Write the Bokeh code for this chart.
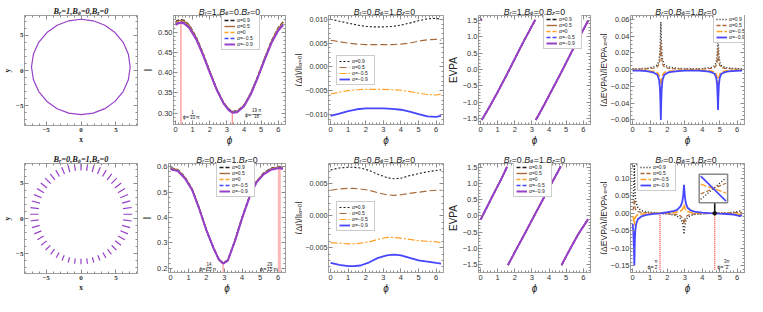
import numpy as np
from bokeh.plotting import figure
from bokeh.models import Range1d, FixedTicker, LinearAxis, Label, Legend, LegendItem
from bokeh.layouts import row, column
from bokeh.embed import file_html
from bokeh.resources import INLINE

PI = np.pi
NAN = float("nan")

# ---------------- texts / ticks ----------------
titles_top = ["B_r=1,B_ϕ=0,B_z=0", "B_r=1,B_ϕ=0,B_z=0", "B_r=0,B_ϕ=1,B_z=0",
              "B_r=1,B_ϕ=0,B_z=0", "B_r=0,B_ϕ=1,B_z=0"]
titles_bot = ["B_r=0,B_ϕ=1,B_z=0", "B_r=0,B_ϕ=1,B_z=0", "B_r=0,B_ϕ=1,B_z=0",
              "B_r=0,B_ϕ=1,B_z=0", "B_r=0,B_ϕ=1,B_z=0"]
alpha5_labels = ["α=0.9", "α=0.5", "α=0", "α=−0.5", "α=−0.9"]
alpha4_labels = ["α=0.9", "α=0.5", "α=−0.5", "α=−0.9"]
ylab_ring = "y"
xlab_ring = "x"
xlab_phi = "ϕ"
ylab_I = "I"
ylab_dI = "(ΔI)/|I_{α=0}|"
ylab_evpa = "EVPA"
ylab_devpa = "(ΔEVPA)/|EVPA_{α=0}|"

ring_ticks = [-5, 0, 5]
ring_tick_labels = ["−5", "0", "5"]
phi_ticks = [0, 1, 2, 3, 4, 5, 6]
phi_tick_labels = ["0", "1", "2", "3", "4", "5", "6"]
i2_ticks = [0.30, 0.35, 0.40, 0.45, 0.50]
i2_tick_labels = ["0.30", "0.35", "0.40", "0.45", "0.50"]
d3_ticks = [-0.010, -0.005, 0.0, 0.005, 0.010]
d3_tick_labels = ["−0.010", "−0.005", "0.000", "0.005", "0.010"]
evpa_ticks = [-1.5, -1.0, -0.5, 0.0, 0.5, 1.0, 1.5]
evpa_tick_labels = ["−1.5", "−1.0", "−0.5", "0.0", "0.5", "1.0", "1.5"]
de5_ticks = [-0.06, -0.04, -0.02, 0.0, 0.02, 0.04, 0.06]
de5_tick_labels = ["−0.06", "−0.04", "−0.02", "0.00", "0.02", "0.04", "0.06"]
i7_ticks = [0.2, 0.3, 0.4, 0.5, 0.6]
i7_tick_labels = ["0.2", "0.3", "0.4", "0.5", "0.6"]
d8_ticks = [-0.005, 0.0, 0.005]
d8_tick_labels = ["−0.005", "0.000", "0.005"]
de10_ticks = [-0.15, -0.10, -0.05, 0.0, 0.05, 0.10]
de10_tick_labels = ["−0.15", "−0.10", "−0.05", "0.00", "0.05", "0.10"]

# ---------------- data ----------------
ring1_deg = [0, 15, 30, 45, 60, 75, 90, 105, 120, 135, 150, 165, 180,
             195, 210, 225, 240, 255, 270, 285, 300, 315, 330, 345, 360]
ring1_r = [7.05, 7.03, 6.98, 6.90, 6.83, 6.78, 6.77, 6.78, 6.83, 6.91, 7.00, 7.06, 7.10,
           7.06, 6.99, 6.91, 6.84, 6.78, 6.77, 6.78, 6.83, 6.90, 6.98, 7.03, 7.05]
ring1_cx, ring1_cy = 0.0, 0.5

ring6_deg = [0, 7.5, 15, 22.5, 30, 37.5, 45, 52.5, 60, 67.5, 75, 82.5,
             90, 97.5, 105, 112.5, 120, 127.5, 135, 142.5, 150, 157.5, 165, 172.5,
             180, 187.5, 195, 202.5, 210, 217.5, 225, 232.5, 240, 247.5, 255, 262.5,
             270, 277.5, 285, 292.5, 300, 307.5, 315, 322.5, 330, 337.5, 345, 352.5]
ring6_len = [1.25, 1.25, 1.22, 1.20, 1.17, 1.13, 1.10, 1.07, 1.05, 1.03, 1.01, 1.00,
             1.00, 1.00, 1.01, 1.03, 1.05, 1.07, 1.10, 1.13, 1.15, 1.17, 1.19, 1.20,
             1.20, 1.18, 1.15, 1.10, 1.05, 1.00, 0.95, 0.90, 0.85, 0.81, 0.78, 0.76,
             0.75, 0.76, 0.78, 0.82, 0.87, 0.93, 0.99, 1.05, 1.11, 1.16, 1.20, 1.23]
ring6_cx, ring6_cy, ring6_r = 0.0, 0.6, 6.7

phi2 = [0, 0.15, 0.31, 0.5, 0.8, 1.2, 1.6, 2.0, 2.4, 2.8, 3.1, 3.32, 3.6, 4.0, 4.4, 4.8, 5.2, 5.6, 6.0, 6.28]
I2_a09 = [0.5255, 0.5295, 0.5310, 0.5291, 0.5175, 0.4887, 0.4480, 0.4031, 0.3602, 0.3265,
          0.3104, 0.3040, 0.3055, 0.3198, 0.3503, 0.3910, 0.4357, 0.4784, 0.5110, 0.5255]
I2_a05 = [0.5235, 0.5275, 0.5290, 0.5271, 0.5158, 0.4872, 0.4470, 0.4024, 0.3596, 0.3259,
          0.3097, 0.3033, 0.3048, 0.3191, 0.3496, 0.3901, 0.4347, 0.4770, 0.5093, 0.5235]
I2_a0 = [0.5215, 0.5255, 0.5270, 0.5251, 0.5140, 0.4857, 0.4460, 0.4016, 0.3590, 0.3253,
         0.3089, 0.3025, 0.3040, 0.3183, 0.3488, 0.3892, 0.4337, 0.4756, 0.5075, 0.5215]
I2_am05 = [0.5195, 0.5235, 0.5250, 0.5231, 0.5123, 0.4842, 0.4450, 0.4009, 0.3584, 0.3247,
           0.3082, 0.3018, 0.3033, 0.3176, 0.3481, 0.3883, 0.4327, 0.4742, 0.5058, 0.5195]
I2_am09 = [0.5175, 0.5215, 0.5230, 0.5211, 0.5105, 0.4827, 0.4440, 0.4001, 0.3578, 0.3241,
           0.3074, 0.3010, 0.3025, 0.3168, 0.3473, 0.3874, 0.4317, 0.4728, 0.5040, 0.5175]
mark2_phi = [PI / 10, 19 * PI / 18]
mark2_top = [0.527, 0.302]

phi3 = [0, 0.5, 1.0, 1.5, 2.0, 2.5, 3.0, 3.5, 4.0, 4.5, 5.0, 5.5, 6.0, 6.28]
d3_a09 = [0.0100, 0.0096, 0.0092, 0.0088, 0.0085, 0.0084, 0.0084, 0.0085, 0.0088, 0.0092, 0.0097, 0.0101, 0.0102, 0.0100]
d3_a05 = [0.0056, 0.0053, 0.0050, 0.0048, 0.0047, 0.0047, 0.0047, 0.0047, 0.0048, 0.0050, 0.0054, 0.0057, 0.0058, 0.0056]
d3_am05 = [-0.0057, -0.0053, -0.0050, -0.0048, -0.0047, -0.0047, -0.0047, -0.0048, -0.0049, -0.0052, -0.0055, -0.0058, -0.0059, -0.0057]
d3_am09 = [-0.0103, -0.0098, -0.0093, -0.0089, -0.0087, -0.0087, -0.0087, -0.0088, -0.0090, -0.0094, -0.0099, -0.0104, -0.0105, -0.0103]

phi4 = [0, 0.05, NAN, 0.07, 0.5, 1.0, 1.5, 2.0, 2.5, 3.0, 3.2, NAN, 3.23, 3.7, 4.2, 4.7, 5.2, 5.7, 6.1, 6.28]
evpa4 = [1.50, 1.56, NAN, -1.55, -1.17, -0.69, -0.19, 0.33, 0.85, 1.34, 1.53, NAN, -1.55, -1.10, -0.60, -0.10, 0.42, 0.93, 1.32, 1.50]

phi5 = [0, 0.4, 0.8, 1.02, 1.22, 1.42, 1.52, 1.57, 1.60, 1.62, 1.64, 1.67, 1.72, 1.82, 2.02, 2.22,
        2.6, 3.0, 3.4, 3.8, 4.1, 4.3, 4.5, 4.7, 4.8, 4.85, 4.88, 4.9, 4.92, 4.95, 5.0, 5.1, 5.3, 5.5, 5.9, 6.28]
de5_a09 = [0.001, 0.0012, 0.0016, 0.0026, 0.0034, 0.0057, 0.0114, 0.0217, 0.040, 0.057, 0.040, 0.0217, 0.0114, 0.0057, 0.0034, 0.0026,
           0.0016, 0.0012, 0.0011, 0.0012, 0.0016, 0.0020, 0.0027, 0.0045, 0.009, 0.017, 0.0315, 0.045, 0.0315, 0.017, 0.009, 0.0045, 0.0027, 0.0020, 0.0014, 0.001]
de5_a05 = [0.0005, 0.0006, 0.0009, 0.0015, 0.0020, 0.0033, 0.0066, 0.0125, 0.023, 0.033, 0.023, 0.0125, 0.0066, 0.0033, 0.0020, 0.0015,
           0.0009, 0.0006, 0.0005, 0.0006, 0.0009, 0.0012, 0.0016, 0.0026, 0.0052, 0.0099, 0.018, 0.026, 0.018, 0.0099, 0.0052, 0.0026, 0.0016, 0.0012, 0.0008, 0.0005]
de5_am05 = [-0.0005, -0.0006, -0.0009, -0.0015, -0.0020, -0.0033, -0.0066, -0.0125, -0.023, -0.033, -0.023, -0.0125, -0.0066, -0.0033, -0.0020, -0.0015,
            -0.0009, -0.0006, -0.0005, -0.0006, -0.0009, -0.0012, -0.0016, -0.0026, -0.0052, -0.0099, -0.018, -0.026, -0.018, -0.0099, -0.0052, -0.0026, -0.0016, -0.0012, -0.0008, -0.0005]
de5_am09 = [-0.001, -0.0012, -0.0017, -0.0027, -0.0036, -0.006, -0.012, -0.0228, -0.042, -0.060, -0.042, -0.0228, -0.012, -0.006, -0.0036, -0.0027,
            -0.0017, -0.0012, -0.0011, -0.0012, -0.0017, -0.0021, -0.0029, -0.0048, -0.0096, -0.018, -0.0336, -0.048, -0.0336, -0.018, -0.0096, -0.0048, -0.0029, -0.0021, -0.0015, -0.001]

phi7 = [0, 0.4, 0.8, 1.2, 1.6, 2.0, 2.4, 2.7, 2.93, 3.2, 3.6, 4.0, 4.4, 4.8, 5.2, 5.6, 6.07, 6.28]
I7_a09 = [0.595, 0.588, 0.559, 0.512, 0.4365, 0.351, 0.281, 0.236, 0.221, 0.233, 0.311, 0.4015, 0.482, 0.542, 0.5745, 0.593, 0.600, 0.596]
I7_a05 = [0.5935, 0.5865, 0.5575, 0.511, 0.4358, 0.3505, 0.2805, 0.2355, 0.2205, 0.2325, 0.3105, 0.4008, 0.481, 0.541, 0.5733, 0.5915, 0.5985, 0.5945]
I7_a0 = [0.592, 0.585, 0.556, 0.510, 0.435, 0.350, 0.280, 0.235, 0.220, 0.232, 0.310, 0.400, 0.480, 0.540, 0.572, 0.590, 0.597, 0.593]
I7_am05 = [0.5905, 0.5835, 0.5545, 0.509, 0.4343, 0.3495, 0.2795, 0.2345, 0.2195, 0.2315, 0.3095, 0.3993, 0.479, 0.539, 0.5708, 0.5885, 0.5955, 0.5915]
I7_am09 = [0.589, 0.582, 0.553, 0.508, 0.4335, 0.349, 0.279, 0.234, 0.219, 0.231, 0.309, 0.3985, 0.478, 0.538, 0.5695, 0.587, 0.594, 0.590]
mark7_phi = [14 * PI / 15, 29 * PI / 15]
mark7_top = [0.220, 0.597]

phi8 = [0, 0.5, 1.0, 1.3, 1.7, 2.2, 2.7, 3.2, 3.6, 4.0, 4.5, 5.0, 5.5, 6.0, 6.28]
d8_a09 = [0.0072, 0.0075, 0.0076, 0.0076, 0.0075, 0.0071, 0.0065, 0.0060, 0.0058, 0.0059, 0.0063, 0.0066, 0.0069, 0.0071, 0.0072]
d8_a05 = [0.0040, 0.0042, 0.0043, 0.0043, 0.0042, 0.0040, 0.0036, 0.0033, 0.0032, 0.0033, 0.0035, 0.0037, 0.0039, 0.0040, 0.0040]
d8_am05 = [-0.0042, -0.0043, -0.0044, -0.0044, -0.0043, -0.0041, -0.0037, -0.0034, -0.0034, -0.0035, -0.0037, -0.0039, -0.0040, -0.0041, -0.0042]
d8_am09 = [-0.0074, -0.0077, -0.0079, -0.0079, -0.0078, -0.0073, -0.0066, -0.0062, -0.0061, -0.0062, -0.0066, -0.0070, -0.0072, -0.0074, -0.0075]

phi9 = [0, 0.4, 0.8, 1.2, 1.55, NAN, 1.6, 2.0, 2.5, 3.0, 3.5, 4.0, 4.5, 4.68, NAN, 4.73, 5.2, 5.7, 6.28]
evpa9 = [-0.12, 0.30, 0.72, 1.13, 1.52, NAN, -1.52, -1.12, -0.63, -0.13, 0.37, 0.86, 1.35, 1.53, NAN, -1.52, -1.05, -0.57, -0.10]

phi10 = [0, 0.04, 0.07, 0.09, 0.1, 0.11, 0.13, 0.16, 0.2, 0.3, 0.5, 0.8, 1.2, 1.57, 2.0, 2.35, 2.55, 2.75,
         2.85, 2.9, 2.93, 2.95, 2.97, 3.0, 3.05, 3.15, 3.35, 3.6, 4.0, 4.4, 4.71, 5.0, 5.4, 5.8, 6.0, 6.15, 6.28]
de10_a09 = [0.03, 0.045, 0.08, 0.12, 0.14, 0.12, 0.07, 0.045, 0.03, 0.016, 0.008, 0.004, 0.0015, 0.0, -0.002, -0.005, -0.008, -0.015,
            -0.025, -0.038, -0.05, -0.06, -0.05, -0.035, -0.022, -0.012, -0.006, -0.003, -0.0015, -0.0006, 0.0, 0.0008, 0.0015, 0.003, 0.005, 0.007, 0.004]
de10_a05 = [0.009, 0.013, 0.024, 0.035, 0.04, 0.035, 0.02, 0.013, 0.009, 0.005, 0.0025, 0.0012, 0.0005, 0.0, -0.001, -0.0025, -0.004, -0.0075,
            -0.0125, -0.019, -0.025, -0.03, -0.025, -0.0175, -0.011, -0.006, -0.003, -0.0015, -0.0008, -0.0003, 0.0, 0.0004, 0.0008, 0.0015, 0.0025, 0.0035, 0.002]
de10_am05 = [-0.008, -0.011, -0.021, -0.03, -0.035, -0.03, -0.018, -0.011, -0.008, -0.0045, -0.0022, -0.001, -0.0004, 0.0, 0.0009, 0.002, 0.0033, 0.0063,
             0.0104, 0.016, 0.021, 0.025, 0.021, 0.0146, 0.009, 0.005, 0.0025, 0.0013, 0.0007, 0.0003, 0.0, -0.0004, -0.0007, -0.0013, -0.002, -0.003, -0.0018]
de10_am09 = [-0.03, -0.05, -0.09, -0.13, -0.15, -0.13, -0.075, -0.048, -0.032, -0.017, -0.009, -0.0045, -0.0017, 0.0, 0.003, 0.006, 0.01, 0.02,
             0.033, 0.05, 0.068, 0.082, 0.068, 0.048, 0.03, 0.016, 0.008, 0.004, 0.002, 0.0007, 0.0, -0.001, -0.002, -0.0035, -0.006, -0.008, -0.005]
mark10_phi = [PI / 2, 3 * PI / 2]
inset_phi = [4.67, 4.75]
inset_a09 = [-0.0006, 0.0006]
inset_a05 = [-0.0003, 0.0003]
inset_am05 = [0.00025, -0.00025]
inset_am09 = [0.0007, -0.0007]

# ---------------- styling ----------------
SANS = "Liberation Sans"
SERIF = "Liberation Serif"
FRAME = "#a0a0a0"
TICKC = "#8c8c8c"
LABC = "#333333"
BLACK = "#1e1e1e"
BROWN = "#a86a3a"
ORANGE = "#ffa126"
BLUE = "#4646ff"
PURPLE = "#9940c8"
RED = "#ff2a2a"

S5 = [(BLACK, "4 2", 1.4), (BROWN, "solid", 1.4), (ORANGE, "4 2", 1.4), (BLUE, "4 2", 1.4), (PURPLE, "solid", 2.0)]
S4a = [(BLACK, "2 2", 1.1), (BROWN, "7 3", 1.2), (ORANGE, "7 2 2 2", 1.2), (BLUE, "solid", 1.8)]
S4b = [(BLACK, "1 2", 1.5), (BROWN, "4 2", 1.3), (ORANGE, "6 2", 1.6), (BLUE, "solid", 1.8)]

WS = {c: 0.556 for c in "0123456789"}
WS.update({'.': .278, ',': .278, '=': .584, '−': .584, '-': .333, '(': .333, ')': .333, '/': .278,
           '|': .26, 'B': .667, 'E': .667, 'V': .667, 'P': .667, 'A': .667, 'I': .278, 'r': .333,
           'z': .5, 'x': .5, 'y': .5, 'ϕ': .62, 'α': .58, 'Δ': .67, 'π': .58, ' ': .278})
WR = {c: 0.5 for c in "0123456789"}
WR.update({'.': .25, ',': .25, '=': .57, '−': .57, 'B': .667, 'r': .389, 'z': .389, 'ϕ': .55, 'x': .5, 'y': .5})


def tw(s, size, fam):
    t = WS if fam == "sans" else WR
    return sum(t.get(c, 0.56) for c in s) * size


def parse_rich(s):
    parts, buf, i = [], "", 0
    while i < len(s):
        c = s[i]
        if c == "_":
            if buf:
                parts.append((buf, False))
                buf = ""
            if s[i + 1] == "{":
                j = s.index("}", i)
                parts.append((s[i + 2:j], True))
                i = j + 1
            else:
                parts.append((s[i + 1], True))
                i += 2
        else:
            buf += c
            i += 1
    if buf:
        parts.append((buf, False))
    return parts


def rich(p, x, y, s, size, font=SANS, fam="sans", style="normal", italic_letters=False,
         angle=0.0, dx=0.0, dy=0.0, color="#222222", align="center", sub_shift=0.28):
    runs = []
    for txt, sub in parse_rich(s):
        if italic_letters:
            cur, cur_alpha = "", None
            for ch in txt:
                a = ch.isalpha()
                if cur and a != cur_alpha:
                    runs.append((cur, sub, "italic" if cur_alpha else "normal"))
                    cur = ""
                cur += ch
                cur_alpha = a
            if cur:
                runs.append((cur, sub, "italic" if cur_alpha else "normal"))
        else:
            runs.append((txt, sub, style))
    sizes = [size * 0.68 if r[1] else size for r in runs]
    total = sum(tw(r[0], fs, fam) for r, fs in zip(runs, sizes))
    u = -total / 2 if align == "center" else (0 if align == "left" else -total)
    ca, sa = np.cos(angle), np.sin(angle)
    for (txt, sub, st), fs in zip(runs, sizes):
        v = -sub_shift * size if sub else 0.0
        ox = dx + u * ca - v * sa
        oy = dy + u * sa + v * ca
        p.add_layout(Label(x=x, y=y, text=txt, x_offset=ox, y_offset=oy, angle=angle,
                           text_align="left", text_baseline="alphabetic", text_font=font,
                           text_font_size=f"{fs:.2f}px", text_font_style=st, text_color=color))
        u += tw(txt, fs, fam)


def frac(p, x, y, pre, num, den, post, size=5.5):
    fs = size * 0.82
    wpre = tw(pre, size, "sans")
    wf = max(tw(num, fs, "sans"), tw(den, fs, "sans"))
    kw = dict(x=x, y=y, text_font=SANS, text_color="#222222")
    p.add_layout(Label(text=pre, x_offset=0, y_offset=-0.35 * size, text_align="left",
                       text_baseline="alphabetic", text_font_size=f"{size}px", **kw))
    cx = wpre + 0.6 + wf / 2
    p.add_layout(Label(text=num, x_offset=cx, y_offset=0.6, text_align="center",
                       text_baseline="bottom", text_font_size=f"{fs:.2f}px", **kw))
    p.add_layout(Label(text=den, x_offset=cx, y_offset=-0.6, text_align="center",
                       text_baseline="top", text_font_size=f"{fs:.2f}px", **kw))
    p.add_layout(Label(text="—", x_offset=cx, y_offset=0, text_align="center",
                       text_baseline="middle", text_font_size=f"{wf + 1:.2f}px", **kw))
    if post:
        p.add_layout(Label(text=post, x_offset=wpre + wf + 1.6, y_offset=-0.35 * size, text_align="left",
                           text_baseline="alphabetic", text_font_size=f"{size}px", **kw))


def style_axis(ax):
    ax.axis_line_color = FRAME
    ax.major_tick_in = 4
    ax.major_tick_out = 0
    ax.minor_tick_in = 2
    ax.minor_tick_out = 0
    ax.major_tick_line_color = TICKC
    ax.minor_tick_line_color = TICKC


# layout geometry (per column)
WIDTHS = [138, 148, 158, 147, 156]
BL = [18, 28, 39, 28, 36]
BR = [1, 1, 1, 1, 3]
STRIP = [0, 0, 16, 0, 16]
TITLE_H = 15
MAIN_H = 133
M_TOP, M_BOT = 0, 23
FH = MAIN_H - M_TOP - M_BOT


def make_fig(col, xr, yr, xt, xl, yt, yl, xm, ym, font=SANS, fsize="7.5px", fstyle="normal",
             xlabel=None, xlab_font=SANS, xlab_size="10px", xlab_style="italic",
             ylabel=None, ylab_font=SANS, ylab_size="10px", ylab_style="normal", ytick_size=None):
    p = figure(width=WIDTHS[col] - STRIP[col], height=MAIN_H, x_range=Range1d(*xr), y_range=Range1d(*yr),
               output_backend="svg", toolbar_location=None, tools="",
               min_border_left=BL[col] - STRIP[col], min_border_right=BR[col],
               min_border_top=M_TOP, min_border_bottom=M_BOT)
    p.xgrid.visible = False
    p.ygrid.visible = False
    p.outline_line_color = FRAME
    p.background_fill_color = "white"
    p.border_fill_color = "white"
    for ax, ticks, labels, minor in ((p.xaxis[0], xt, xl, xm), (p.yaxis[0], yt, yl, ym)):
        ax.ticker = FixedTicker(ticks=ticks, minor_ticks=minor)
        ax.major_label_overrides = {float(t): s for t, s in zip(ticks, labels)}
        style_axis(ax)
        ax.major_label_text_font = font
        ax.major_label_text_font_size = fsize
        ax.major_label_text_font_style = fstyle
        ax.major_label_text_color = LABC
        ax.major_label_standoff = 1
    if ytick_size:
        p.yaxis[0].major_label_text_font_size = ytick_size
    xa = p.xaxis[0]
    xa.major_label_standoff = 2
    for ax, lab, f, sz, st in ((xa, xlabel, xlab_font, xlab_size, xlab_style),
                                (p.yaxis[0], ylabel, ylab_font, ylab_size, ylab_style)):
        if lab:
            ax.axis_label = lab
            ax.axis_label_text_font = f
            ax.axis_label_text_font_size = sz
            ax.axis_label_text_font_style = st
            ax.axis_label_text_color = "#222222"
            ax.axis_label_standoff = 1
    xa.axis_label_standoff = 0
    for loc, ticks, minor in (("above", xt, xm), ("right", yt, ym)):
        ax = LinearAxis(ticker=FixedTicker(ticks=ticks, minor_ticks=minor),
                        major_label_overrides={float(t): "" for t in ticks},
                        major_label_standoff=0, major_label_text_font_size="0px")
        style_axis(ax)
        p.add_layout(ax, loc)
    return p


def strip(width, height, bl, br, bt, bb):
    f = figure(width=width, height=height, x_range=Range1d(0, 1), y_range=Range1d(0, 1),
               output_backend="svg", toolbar_location=None, tools="",
               x_axis_location=None, y_axis_location=None,
               min_border_left=bl, min_border_right=br, min_border_top=bt, min_border_bottom=bb)
    f.grid.visible = False
    f.outline_line_color = None
    f.background_fill_color = "white"
    f.border_fill_color = "white"
    return f


def panel(col, p, title_text, ylab_text=None, serif=False, ylab_size=8.5):
    t = strip(WIDTHS[col], TITLE_H, BL[col], BR[col], 0, 0)
    if serif:
        rich(t, 0.5, 0.0, title_text, 8.3, font=SERIF, fam="serif", style="bold italic",
             dy=4.0, sub_shift=0.22)
    else:
        rich(t, 0.5, 0.0, title_text, 8.8, italic_letters=True, dy=4.0, sub_shift=0.22)
    if STRIP[col] and ylab_text:
        s = strip(STRIP[col], MAIN_H, 0, 0, M_TOP, M_BOT)
        rich(s, 0.0, 0.5, ylab_text, ylab_size, angle=PI / 2, dx=12.0, sub_shift=0.22)
        return column(t, row(s, p))
    return column(t, p)


def minor(a, b, step):
    return [float(v) for v in np.arange(a, b + 1e-9, step)]


def add_legend(p, rends, labels, x, top):
    n = len(labels)
    h = n * 6 + 4
    leg = Legend(items=[LegendItem(label=l, renderers=[r]) for l, r in zip(labels, rends)],
                 location=(x, FH - top - h), label_text_font=SANS, label_text_font_size="5px",
                 label_height=6, glyph_height=6, glyph_width=11, label_standoff=2, spacing=0,
                 padding=2, margin=0, border_line_color="#9a9a9a", border_line_width=0.8,
                 background_fill_color="white", background_fill_alpha=1.0, label_text_color="#222222")
    p.add_layout(leg)


def draw_lines(p, xs, ys_list, styles):
    rs = []
    for ys, (c, d, w) in zip(ys_list, styles):
        rs.append(p.line(np.array(xs, dtype=float), np.array(ys, dtype=float),
                         line_color=c, line_dash=d, line_width=w))
    return rs


XR_PHI = (-0.12, 6.42)
XM_PHI = minor(0, 6.4, 0.2)
XR1, YR1 = (-8.1, 8.1), (-7.8, 7.8)
RING_KW = dict(font=SERIF, fsize="7px", fstyle="bold", xlabel=xlab_ring, xlab_font=SERIF,
               xlab_size="7.5px", xlab_style="bold", ylabel=ylab_ring, ylab_font=SERIF,
               ylab_size="7.5px", ylab_style="bold")

# ===== panel 1 =====
p1 = make_fig(0, XR1, YR1, ring_ticks, ring_tick_labels, ring_ticks, ring_tick_labels,
              minor(-8, 8, 1), minor(-7, 7, 1), **RING_KW)
th1 = np.radians(ring1_deg)
r1 = np.array(ring1_r)
p1.line(ring1_cx + r1 * np.cos(th1), ring1_cy + r1 * np.sin(th1), line_color=PURPLE, line_width=1.2)
P1 = panel(0, p1, titles_top[0], serif=True)

# ===== panel 2 =====
YR2 = (0.272, 0.541)
p2 = make_fig(1, XR_PHI, YR2, phi_ticks, phi_tick_labels, i2_ticks, i2_tick_labels, XM_PHI,
              minor(0.28, 0.54, 0.01), xlabel=xlab_phi, ylabel=ylab_I, ylab_size="10.5px")
p2.segment(mark2_phi, [YR2[0]] * 2, mark2_phi, mark2_top, line_color=RED, line_dash="1 1", line_width=1.3)
r2 = draw_lines(p2, phi2, [I2_a09, I2_a05, I2_a0, I2_am05, I2_am09], S5)
add_legend(p2, r2, alpha5_labels, 48, 2)
frac(p2, 0.42, 0.296, "ϕ=", "1", "10", "π")
frac(p2, 4.05, 0.299, "ϕ=", "19 π", "18", "")
P2 = panel(1, p2, titles_top[1])

# ===== panel 3 =====
YR3 = (-0.0121, 0.0108)
p3 = make_fig(2, XR_PHI, YR3, phi_ticks, phi_tick_labels, d3_ticks, d3_tick_labels, XM_PHI,
              minor(-0.012, 0.010, 0.001), xlabel=xlab_phi, ytick_size="7.2px")
r3 = draw_lines(p3, phi3, [d3_a09, d3_a05, d3_am05, d3_am09], S4a)
add_legend(p3, r3, alpha4_labels, 8, 43)
P3 = panel(2, p3, titles_top[2], ylab_dI)

# ===== panel 4 =====
YR4 = (-1.69, 1.66)
p4 = make_fig(3, XR_PHI, YR4, phi_ticks, phi_tick_labels, evpa_ticks, evpa_tick_labels, XM_PHI,
              minor(-1.6, 1.6, 0.1), xlabel=xlab_phi, ylabel=ylab_evpa)
r4 = draw_lines(p4, phi4, [evpa4] * 5, S5)
add_legend(p4, r4, alpha5_labels, 65, 1)
P4 = panel(3, p4, titles_top[3])

# ===== panel 5 =====
YR5 = (-0.0655, 0.0648)
p5 = make_fig(4, XR_PHI, YR5, phi_ticks, phi_tick_labels, de5_ticks, de5_tick_labels, XM_PHI,
              minor(-0.065, 0.065, 0.005), xlabel=xlab_phi)
r5 = draw_lines(p5, phi5, [de5_a09, de5_a05, de5_am05, de5_am09], S4b)
add_legend(p5, r5, alpha4_labels, 83, 1)
P5 = panel(4, p5, titles_top[4], ylab_devpa)

# ===== panel 6 =====
p6 = make_fig(0, XR1, YR1, ring_ticks, ring_tick_labels, ring_ticks, ring_tick_labels,
              minor(-8, 8, 1), minor(-7, 7, 1), **RING_KW)
th6 = np.radians(ring6_deg)
L6 = np.array(ring6_len)
cx6 = ring6_cx + ring6_r * np.cos(th6)
cy6 = ring6_cy + ring6_r * np.sin(th6)
p6.segment(cx6 - L6 / 2 * np.cos(th6), cy6 - L6 / 2 * np.sin(th6),
           cx6 + L6 / 2 * np.cos(th6), cy6 + L6 / 2 * np.sin(th6), line_color=PURPLE, line_width=1.2)
P6 = panel(0, p6, titles_bot[0], serif=True)

# ===== panel 7 =====
YR7 = (0.184, 0.612)
p7 = make_fig(1, XR_PHI, YR7, phi_ticks, phi_tick_labels, i7_ticks, i7_tick_labels, XM_PHI,
              minor(0.18, 0.61, 0.02), xlabel=xlab_phi, ylabel=ylab_I, ylab_size="10.5px")
p7.segment([mark7_phi[0]], [YR7[0]], [mark7_phi[0]], [mark7_top[0]], line_color=RED, line_dash="1 1", line_width=1.2)
p7.segment([mark7_phi[1]], [YR7[0]], [mark7_phi[1]], [mark7_top[1]], line_color="#ff7070", line_dash="1 1", line_width=3)
r7 = draw_lines(p7, phi7, [I7_a09, I7_a05, I7_a0, I7_am05, I7_am09], S5)
add_legend(p7, r7, alpha5_labels, 48, 1)
frac(p7, 1.6, 0.207, "ϕ=", "14", "15", "π")
frac(p7, 5.0, 0.207, "ϕ=", "29", "15", "π")
P7 = panel(1, p7, titles_bot[1])

# ===== panel 8 =====
YR8 = (-0.0089, 0.0082)
p8 = make_fig(2, XR_PHI, YR8, phi_ticks, phi_tick_labels, d8_ticks, d8_tick_labels, XM_PHI,
              minor(-0.008, 0.008, 0.001), xlabel=xlab_phi, ytick_size="7.2px")
r8 = draw_lines(p8, phi8, [d8_a09, d8_a05, d8_am05, d8_am09], S4a)
add_legend(p8, r8, alpha4_labels, 8, 41)
P8 = panel(2, p8, titles_bot[2], ylab_dI)

# ===== panel 9 =====
YR9 = (-1.75, 1.62)
p9 = make_fig(3, XR_PHI, YR9, phi_ticks, phi_tick_labels, evpa_ticks, evpa_tick_labels, XM_PHI,
              minor(-1.7, 1.6, 0.1), xlabel=xlab_phi, ylabel=ylab_evpa)
r9 = draw_lines(p9, phi9, [evpa9] * 5, S5)
add_legend(p9, r9, alpha5_labels, 35, 1)
P9 = panel(3, p9, titles_bot[3])

# ===== panel 10 =====
YR10 = (-0.17, 0.143)
p10 = make_fig(4, XR_PHI, YR10, phi_ticks, phi_tick_labels, de10_ticks, de10_tick_labels, XM_PHI,
               minor(-0.17, 0.14, 0.01), xlabel=xlab_phi)
p10.segment(mark10_phi, [-0.162] * 2, mark10_phi, [0.0] * 2, line_color=RED, line_dash="1 1", line_width=1.2)
r10 = draw_lines(p10, phi10, [de10_a09, de10_a05, de10_am05, de10_am09], S4b)
ix0, ix1, iy0, iy1 = 3.82, 5.45, 0.030, 0.112
p10.segment([mark10_phi[1]], [iy0], [mark10_phi[1]], [0.0], line_color="#111111", line_width=1.6)
p10.scatter([mark10_phi[1]], [0.0], size=3.5, color="#111111")
p10.quad(left=[ix0], right=[ix1], bottom=[iy0], top=[iy1], fill_color="white", line_color="#888888", line_width=1.5)
ipx = np.array(inset_phi)
ixs = ix0 + (ipx - 4.665) / (4.755 - 4.665) * (ix1 - ix0)
for ys, (c, d, w) in zip([inset_a09, inset_a05, inset_am05, inset_am09], S4b):
    iys = iy0 + (np.array(ys) + 0.0008) / 0.0016 * (iy1 - iy0)
    p10.line(ixs, iys, line_color=c, line_dash=d, line_width=w * 0.9)
add_legend(p10, r10, alpha4_labels, 7, 1)
frac(p10, 0.85, -0.148, "ϕ=", "π", "2", "")
frac(p10, 4.85, -0.148, "ϕ=", "3π", "2", "")
P10 = panel(4, p10, titles_bot[4], ylab_devpa)

layout = column(row(P1, P2, P3, P4, P5), row(P6, P7, P8, P9, P10))
open("out.html", "w").write(file_html(layout, INLINE))
